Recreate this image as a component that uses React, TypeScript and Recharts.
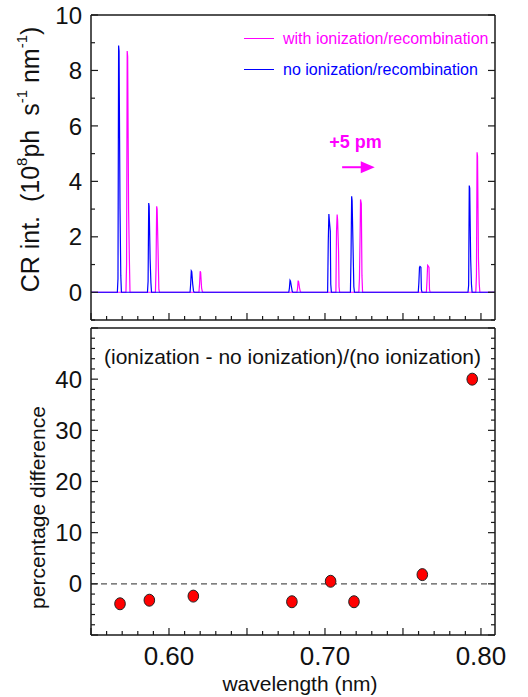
import React from 'react';
import {
  LineChart,
  Line,
  XAxis,
  YAxis,
  ScatterChart,
  Scatter,
  ReferenceLine,
  ReferenceDot,
  Legend,
} from 'recharts';

const FONT = '"Liberation Sans", Arial, Helvetica, sans-serif';
const AXIS = '#1a1a1a';
const MAGENTA = '#ff00ff';
const BLUE = '#0000ff';

// ---- axes ----
const xDomain: [number, number] = [0.55, 0.809];
const xTicks = [
  0.55, 0.56, 0.57, 0.58, 0.59, 0.6, 0.61, 0.62, 0.63, 0.64, 0.65, 0.66, 0.67,
  0.68, 0.69, 0.7, 0.71, 0.72, 0.73, 0.74, 0.75, 0.76, 0.77, 0.78, 0.79, 0.8,
];
const xTickLabels = [0.6, 0.7, 0.8];
const topYTicks = [-1, 0, 1, 2, 3, 4, 5, 6, 7, 8, 9, 10];
const topYLabels = [0, 2, 4, 6, 8, 10];
const botYTicks = [
  -10, -8, -6, -4, -2, 0, 2, 4, 6, 8, 10, 12, 14, 16, 18, 20, 22, 24, 26, 28,
  30, 32, 34, 36, 38, 40, 42, 44, 46, 48, 50,
];
const botYLabels = [0, 10, 20, 30, 40];

const seriesNames = ['with ionization/recombination', 'no ionization/recombination'];
const seriesColors = [MAGENTA, BLUE];

// ---- spectra: [wavelength (nm), intensity (1e8 ph/s/nm)] ----
const withIonization: [number, number][] = [
  [0.55, 0],
  [0.5724, 0], [0.5728, 1.0], [0.5732, 8.7], [0.5735, 8.5], [0.5741, 3.0], [0.5746, 1.2], [0.575, 0],
  [0.5913, 0], [0.5917, 0.9], [0.5921, 3.1], [0.5924, 3.0], [0.593, 1.5], [0.5935, 0.1], [0.5939, 0],
  [0.6192, 0], [0.6196, 0.3], [0.62, 0.76], [0.6203, 0.72], [0.6209, 0.15], [0.6214, 0.02], [0.6218, 0],
  [0.682, 0], [0.6824, 0.12], [0.6828, 0.42], [0.6831, 0.38], [0.6837, 0.15], [0.6842, 0.02], [0.6846, 0],
  [0.707, 0], [0.7074, 2.2], [0.7078, 2.8], [0.7081, 2.6], [0.7087, 1.5], [0.709, 0.2], [0.7094, 0],
  [0.7217, 0], [0.7221, 0.5], [0.7225, 2.0], [0.7228, 3.35], [0.7233, 3.2], [0.7237, 0.6], [0.7241, 0],
  [0.765, 0], [0.7654, 0.4], [0.7658, 0.97], [0.7661, 0.95], [0.7667, 0.9], [0.767, 0.1], [0.7674, 0],
  [0.7967, 0], [0.7971, 0.6], [0.7975, 5.05], [0.7978, 4.9], [0.7984, 1.2], [0.7989, 0.3], [0.7993, 0],
  [0.809, 0],
];
const noIonization: [number, number][] = [
  [0.55, 0],
  [0.5669, 0], [0.5673, 0.5], [0.5677, 8.9], [0.568, 8.7], [0.5686, 3.0], [0.5691, 0.6], [0.5695, 0],
  [0.5862, 0], [0.5866, 0.4], [0.587, 3.22], [0.5873, 3.1], [0.5879, 1.2], [0.5884, 0.35], [0.5888, 0],
  [0.6135, 0], [0.6139, 0.3], [0.6143, 0.77], [0.6146, 0.74], [0.6152, 0.3], [0.6157, 0.05], [0.6161, 0],
  [0.6768, 0], [0.6772, 0.15], [0.6776, 0.43], [0.6779, 0.4], [0.6785, 0.2], [0.679, 0.03], [0.6794, 0],
  [0.7017, 0], [0.7021, 1.8], [0.7025, 2.82], [0.7028, 2.6], [0.7034, 2.2], [0.7037, 0.3], [0.7041, 0],
  [0.7163, 0], [0.7167, 1.3], [0.7171, 3.46], [0.7174, 3.3], [0.718, 1.6], [0.7185, 0.2], [0.7189, 0],
  [0.7598, 0], [0.7602, 0.35], [0.7606, 0.9], [0.7609, 0.93], [0.7615, 0.9], [0.7618, 0.1], [0.7622, 0],
  [0.7917, 0], [0.7921, 0.25], [0.7925, 3.85], [0.7928, 3.75], [0.7934, 1.2], [0.7939, 0.3], [0.7943, 0],
  [0.809, 0],
];

// ---- percentage difference ----
const diffWavelength = [0.5686, 0.5874, 0.6156, 0.6788, 0.7036, 0.7186, 0.7624, 0.7944];
const diffPercent = [-3.9, -3.2, -2.4, -3.5, 0.5, -3.5, 1.8, 40.0];

// ---- annotations ----
const shiftLabel = '+5 pm';
const shiftArrow = { x0: 0.711, x1: 0.7235, tip: 0.7319, y: 4.51 };
const shiftText = { x: 0.7195, y: 5.42 };
const ratioLabel = '(ionization - no ionization)/(no ionization)';
const ratioPos = { x: 0.6792, y: 44.4 };

const withData = withIonization.map(([x, y]) => ({ x, y }));
const noData = noIonization.map(([x, y]) => ({ x, y }));
const diffData = diffWavelength.map((x, i) => ({ x, y: diffPercent[i] }));

const isMult = (v: number, step: number) => Math.abs(v / step - Math.round(v / step)) < 1e-6;
const inList = (list: number[], v: number) => list.some((l) => Math.abs(l - v) < 1e-6);

const makeXTick = (side: 'bottom' | 'top', labels: number[]) => (props: any) => {
  const { x, y, payload } = props;
  const v = payload.value as number;
  const len = isMult(v, 0.05) ? 7 : 4;
  const dir = side === 'bottom' ? -1 : 1;
  return (
    <g>
      <line x1={x} x2={x} y1={y} y2={y + dir * len} stroke={AXIS} strokeWidth={1.2} />
      {side === 'bottom' && inList(labels, v) && (
        <text x={x} y={y + 30} textAnchor="middle" fontSize={26} fontFamily={FONT} fill="#111">
          {v.toFixed(2)}
        </text>
      )}
    </g>
  );
};

const makeYTick = (side: 'left' | 'right', majorStep: number, labels: number[]) => (props: any) => {
  const { x, y, payload } = props;
  const v = payload.value as number;
  const len = isMult(v, majorStep) ? 7 : 4;
  const dir = side === 'left' ? 1 : -1;
  return (
    <g>
      <line x1={x} x2={x + dir * len} y1={y} y2={y} stroke={AXIS} strokeWidth={1.2} />
      {side === 'left' && inList(labels, v) && (
        <text x={x - 9} y={y} dy="0.36em" textAnchor="end" fontSize={24} fontFamily={FONT} fill="#111">
          {String(v)}
        </text>
      )}
    </g>
  );
};

const TopYLabel = (props: any) => {
  const vb = props.viewBox || { x: 0, y: 15, width: 91, height: 305 };
  const cx = vb.x + 30;
  const cy = vb.y + vb.height / 2 - 8;
  return (
    <text
      x={cx}
      y={cy}
      transform={`rotate(-90 ${cx} ${cy})`}
      textAnchor="middle"
      dominantBaseline="central"
      fontSize={25}
      fontFamily={FONT}
      fill="#111"
    >
      {'CR int.\u00a0\u00a0(10'}
      <tspan dy={-9} fontSize={15}>8</tspan>
      <tspan dy={9}>{'ph\u00a0\u00a0s'}</tspan>
      <tspan dy={-9} fontSize={15}>-1</tspan>
      <tspan dy={9}>{'\u00a0nm'}</tspan>
      <tspan dy={-9} fontSize={15}>-1</tspan>
      <tspan dy={9}>)</tspan>
    </text>
  );
};

const BotYLabel = (props: any) => {
  const vb = props.viewBox || { x: 0, y: 8, width: 91, height: 307 };
  const cx = vb.x + 37;
  const cy = vb.y + vb.height / 2 + 26;
  return (
    <text
      x={cx}
      y={cy}
      transform={`rotate(-90 ${cx} ${cy})`}
      textAnchor="middle"
      dominantBaseline="central"
      fontSize={21}
      fontFamily={FONT}
      fill="#111"
    >
      percentage difference
    </text>
  );
};

const XLabel = (props: any) => {
  const vb = props.viewBox || { x: 91, y: 315, width: 404, height: 62 };
  return (
    <text
      x={vb.x + vb.width / 2 + 7}
      y={vb.y + 56}
      textAnchor="middle"
      fontSize={21}
      fontFamily={FONT}
      fill="#111"
    >
      wavelength (nm)
    </text>
  );
};

const renderLegend = (props: any) => {
  const payload = [...(props.payload || [])].sort(
    (a: any, b: any) => seriesNames.indexOf(a.value) - seriesNames.indexOf(b.value)
  );
  return (
    <div style={{ fontFamily: FONT, fontSize: 16 }}>
      {payload.map((p: any, i: number) => {
        const c = seriesColors[seriesNames.indexOf(p.value)] || p.color;
        return (
          <div key={i} style={{ display: 'flex', alignItems: 'center', height: 31, whiteSpace: 'nowrap' }}>
            <div style={{ width: 30, height: 1.5, background: c, marginRight: 9, flex: '0 0 30px' }} />
            <span style={{ color: c, lineHeight: '31px' }}>{p.value}</span>
          </div>
        );
      })}
    </div>
  );
};

const axisLine = { stroke: AXIS, strokeWidth: 1.5 };

export default function App() {
  return (
    <div style={{ position: 'absolute', left: 0, top: 0, width: 528, height: 697, background: '#fff' }}>
      <div style={{ position: 'absolute', left: 0, top: 0 }}>
        <LineChart width={528} height={328} margin={{ top: 0, right: 0, bottom: 0, left: 0 }}>
          <XAxis
            xAxisId={0}
            dataKey="x"
            type="number"
            domain={xDomain}
            allowDataOverflow
            ticks={xTicks}
            interval={0}
            height={8}
            tickSize={0}
            tickMargin={0}
            tickLine={false}
            axisLine={axisLine}
            tick={makeXTick('bottom', [])}
          />
          <XAxis
            xAxisId="t"
            orientation="top"
            type="number"
            domain={xDomain}
            allowDataOverflow
            ticks={xTicks}
            interval={0}
            height={15}
            tickSize={0}
            tickMargin={0}
            tickLine={false}
            axisLine={axisLine}
            tick={makeXTick('top', [])}
          />
          <YAxis
            yAxisId={0}
            type="number"
            domain={[-1, 10]}
            allowDataOverflow
            ticks={topYTicks}
            interval={0}
            width={91}
            tickSize={0}
            tickMargin={0}
            tickLine={false}
            axisLine={axisLine}
            tick={makeYTick('left', 2, topYLabels)}
            label={<TopYLabel />}
          />
          <YAxis
            yAxisId="r"
            orientation="right"
            type="number"
            domain={[-1, 10]}
            allowDataOverflow
            ticks={topYTicks}
            interval={0}
            width={33}
            tickSize={0}
            tickMargin={0}
            tickLine={false}
            axisLine={axisLine}
            tick={makeYTick('right', 2, [])}
          />
          <Legend
            layout="vertical"
            align="center"
            verticalAlign="middle"
            content={renderLegend}
            wrapperStyle={{ position: 'absolute', left: 244, top: 23, width: 270 }}
          />
          <Line
            data={withData}
            dataKey="y"
            name={seriesNames[0]}
            stroke={MAGENTA}
            strokeWidth={1.2}
            dot={false}
            type="linear"
            isAnimationActive={false}
          />
          <Line
            data={noData}
            dataKey="y"
            name={seriesNames[1]}
            stroke={BLUE}
            strokeWidth={1.2}
            dot={false}
            type="linear"
            isAnimationActive={false}
          />
          <ReferenceLine
            segment={[
              { x: shiftArrow.x0, y: shiftArrow.y },
              { x: shiftArrow.x1, y: shiftArrow.y },
            ]}
            stroke={MAGENTA}
            strokeWidth={2}
          />
          <ReferenceDot
            x={shiftArrow.tip}
            y={shiftArrow.y}
            r={1}
            shape={(p: any) => (
              <polygon
                points={`${p.cx},${p.cy} ${p.cx - 14},${p.cy - 6} ${p.cx - 14},${p.cy + 6}`}
                fill={MAGENTA}
              />
            )}
          />
          <ReferenceDot
            x={shiftText.x}
            y={shiftText.y}
            r={1}
            shape={(p: any) => (
              <text
                x={p.cx}
                y={p.cy}
                dy="0.36em"
                textAnchor="middle"
                fontSize={18}
                fontWeight="bold"
                fontFamily={FONT}
                fill={MAGENTA}
              >
                {shiftLabel}
              </text>
            )}
          />
        </LineChart>
      </div>
      <div style={{ position: 'absolute', left: 0, top: 320 }}>
        <ScatterChart width={528} height={377} margin={{ top: 0, right: 0, bottom: 0, left: 0 }}>
          <XAxis
            xAxisId={0}
            dataKey="x"
            type="number"
            domain={xDomain}
            allowDataOverflow
            ticks={xTicks}
            interval={0}
            height={62}
            tickSize={0}
            tickMargin={0}
            tickLine={false}
            axisLine={axisLine}
            tick={makeXTick('bottom', xTickLabels)}
            label={<XLabel />}
          />
          <XAxis
            xAxisId="t"
            orientation="top"
            type="number"
            domain={xDomain}
            allowDataOverflow
            ticks={xTicks}
            interval={0}
            height={8}
            tickSize={0}
            tickMargin={0}
            tickLine={false}
            axisLine={axisLine}
            tick={makeXTick('top', [])}
          />
          <YAxis
            yAxisId={0}
            dataKey="y"
            type="number"
            domain={[-10, 50]}
            allowDataOverflow
            ticks={botYTicks}
            interval={0}
            width={91}
            tickSize={0}
            tickMargin={0}
            tickLine={false}
            axisLine={axisLine}
            tick={makeYTick('left', 10, botYLabels)}
            label={<BotYLabel />}
          />
          <YAxis
            yAxisId="r"
            orientation="right"
            type="number"
            domain={[-10, 50]}
            allowDataOverflow
            ticks={botYTicks}
            interval={0}
            width={33}
            tickSize={0}
            tickMargin={0}
            tickLine={false}
            axisLine={axisLine}
            tick={makeYTick('right', 10, [])}
          />
          <ReferenceLine y={0} stroke="#555" strokeWidth={1.2} strokeDasharray="6 4" />
          <ReferenceDot
            x={ratioPos.x}
            y={ratioPos.y}
            r={1}
            shape={(p: any) => (
              <text
                x={p.cx}
                y={p.cy}
                dy="0.36em"
                textAnchor="middle"
                fontSize={21}
                fontFamily={FONT}
                fill="#111"
              >
                {ratioLabel}
              </text>
            )}
          />
          <Scatter
            data={diffData}
            isAnimationActive={false}
            shape={(p: any) => (
              <ellipse cx={p.cx} cy={p.cy} rx={5.3} ry={6} fill="#ff0000" stroke="#222" strokeWidth={1} />
            )}
          />
        </ScatterChart>
      </div>
    </div>
  );
}
